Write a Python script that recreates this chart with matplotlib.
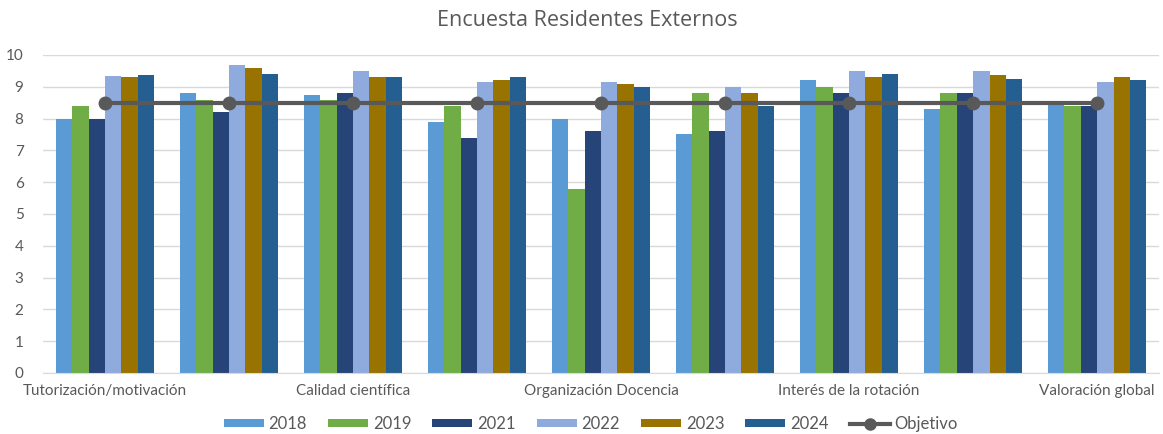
import matplotlib
matplotlib.use("Agg")
import matplotlib.pyplot as plt
import numpy as np
from matplotlib.patches import Patch
from matplotlib.lines import Line2D

plt.rcParams['font.family'] = ['Lato', 'DejaVu Sans']

categories = ["Tutorización/motivación", "", "Calidad científica", "",
              "Organización Docencia", "", "Interés de la rotación", "",
              "Valoración global"]
years = ["2018", "2019", "2021", "2022", "2023", "2024"]
v2018 = [8.0, 8.8, 8.75, 7.9, 8.0, 7.5, 9.2, 8.3, 8.45]
v2019 = [8.4, 8.6, 8.6, 8.4, 5.8, 8.8, 9.0, 8.8, 8.4]
v2021 = [8.0, 8.2, 8.8, 7.4, 7.6, 7.6, 8.8, 8.8, 8.4]
v2022 = [9.35, 9.7, 9.5, 9.15, 9.15, 9.0, 9.5, 9.5, 9.15]
v2023 = [9.3, 9.6, 9.3, 9.2, 9.1, 8.8, 9.3, 9.37, 9.3]
v2024 = [9.37, 9.4, 9.3, 9.3, 9.0, 8.4, 9.4, 9.25, 9.2]
objetivo = [8.5] * 9
series = [v2018, v2019, v2021, v2022, v2023, v2024]
colors = ["#5B9BD5", "#70AD47", "#264478", "#8FAADC", "#997300", "#255E91"]

fig = plt.figure(figsize=(11.63, 4.34), dpi=100)
ax = fig.add_axes([0.037, 0.1406, 0.9597, 0.7327])

x = np.arange(len(categories))
w = 0.132
for i, (vals, c) in enumerate(zip(series, colors)):
    ax.bar(x + (i - 2.5) * w, vals, width=w, color=c, zorder=2, linewidth=0)
ax.plot(x, objetivo, color="#595959", linewidth=3, marker="o", markersize=9,
        zorder=3)

ax.set_xlim(-0.5, len(categories) - 0.5)
ax.set_ylim(0, 10)
ax.set_yticks(range(0, 11))
ax.yaxis.grid(True, color="#D9D9D9", linewidth=1, zorder=0)
ax.set_axisbelow(True)
for s in ["top", "right", "left"]:
    ax.spines[s].set_visible(False)
ax.spines["bottom"].set_color("#D9D9D9")
ax.tick_params(axis="both", length=0, colors="#595959", labelsize=11)
ax.tick_params(axis="x", pad=8)
ax.tick_params(axis="y", pad=14)
ax.set_xticks(x)
ax.set_xticklabels(categories)

fig.text(0.505, 0.953, "Encuesta Residentes Externos", ha="center", va="center",
         fontsize=15.5, color="#595959", family=["Open Sans", "DejaVu Sans"])

handles = [Patch(facecolor=c, edgecolor="none") for c in colors]
handles.append(Line2D([0], [0], color="#595959", linewidth=3, marker="o",
                      markersize=8))
labels = years + ["Objetivo"]
leg = fig.legend(handles, labels, loc="center", bbox_to_anchor=(0.508, 0.023),
                 ncol=7, frameon=False, fontsize=12, handlelength=2.4,
                 handleheight=0.42, columnspacing=1.25, handletextpad=0.3,
                 labelcolor="#595959", borderpad=0)

fig.savefig("out.png", dpi=100)
